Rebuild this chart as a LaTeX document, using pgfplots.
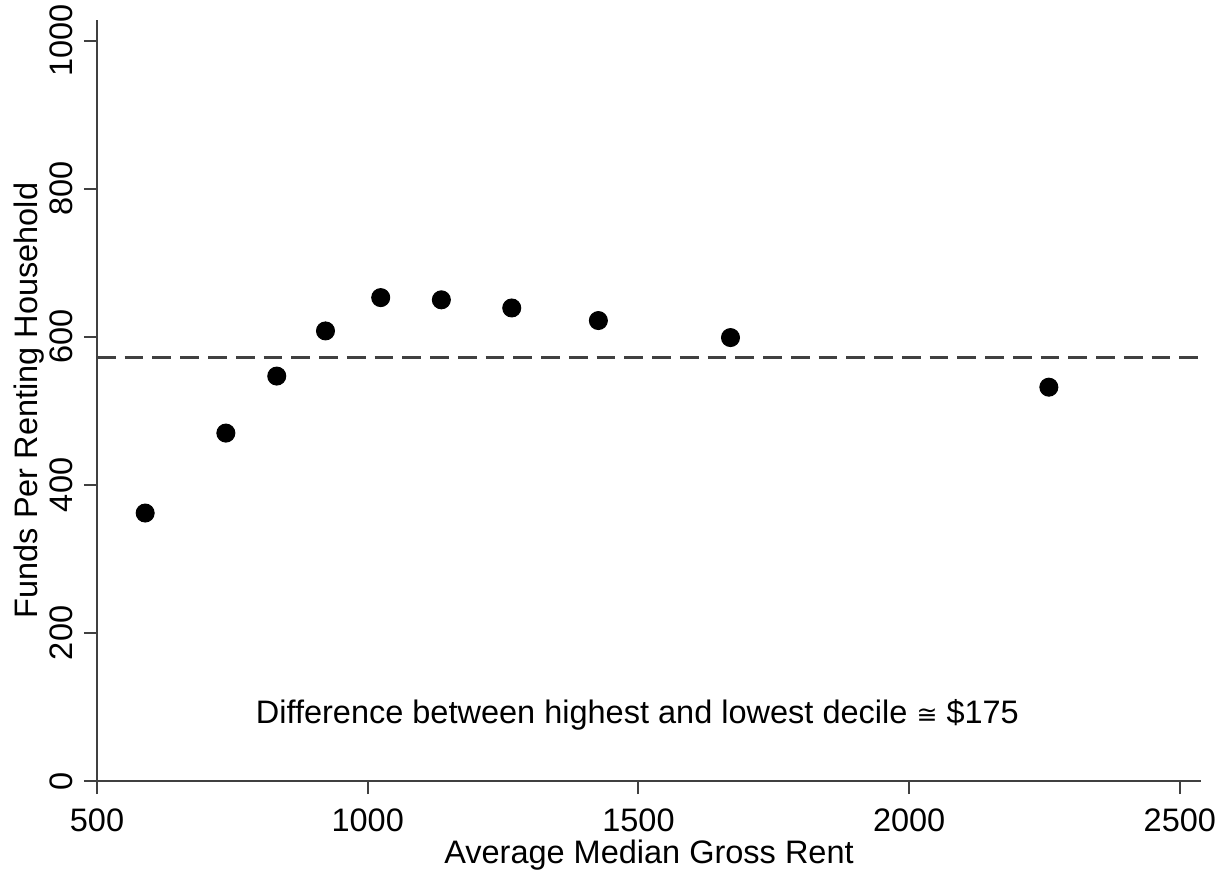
\documentclass[border=0pt]{standalone}
\usepackage{fontspec}
\setmainfont{Liberation Sans}
\newfontfamily\dejavu{DejaVu Sans}
\usepackage{pgfplots}
\pgfplotsset{compat=1.18}
\begin{document}
\begin{tikzpicture}
\begin{axis}[
  scale only axis,
  width=441.6pt, height=304.4pt,
  xmin=500, xmax=2539, ymin=0, ymax=1028,
  axis x line*=bottom, axis y line*=left,
  axis line style={draw=black!75, line width=0.8pt},
  xtick={500,1000,1500,2000,2500},
  ytick={0,200,400,600,800,1000},
  tick align=outside, major tick length=5.2pt,
  tick style={draw=black!75, line width=0.8pt},
  /pgf/number format/assume math mode=true,
  /pgf/number format/set thousands separator={},
  ticklabel style={font=\fontsize{13}{15}\selectfont},
  yticklabel style={rotate=90, anchor=south, yshift=1pt},
  xticklabel style={yshift=-2.2pt},
  xlabel={Average Median Gross Rent},
  ylabel={Funds Per Renting Household},
  label style={font=\fontsize{13}{15}\selectfont},
  xlabel style={at={(axis description cs:0.5,0)}, anchor=center, yshift=-29.6pt},
  ylabel style={at={(axis description cs:0,0.5)}, anchor=center, yshift=27.2pt},
  clip=false,
]
\addplot[only marks, mark=*, mark size=3.6pt, mark options={fill=black, draw=black}] coordinates {
(589,362) (738,470) (832,547) (922,608) (1024,653) (1136,650) (1266,639) (1426,622) (1670,599) (2258,532)
};
\addplot[draw=black!75, line width=1.2pt, dash pattern=on 7.5pt off 3.6pt] coordinates {(500,572) (2539,572)};
\node[font=\fontsize{13}{15}\selectfont] at (axis cs:1498,89) {Difference between highest and lowest decile {\dejavu\fontsize{10}{12}\selectfont ≅} \$175};
\end{axis}
\pgfresetboundingbox
\path ([shift={(-38.8pt,-36pt)}]current axis.south west) rectangle ([shift={(10.8pt,8pt)}]current axis.north east);
\end{tikzpicture}
\end{document}
